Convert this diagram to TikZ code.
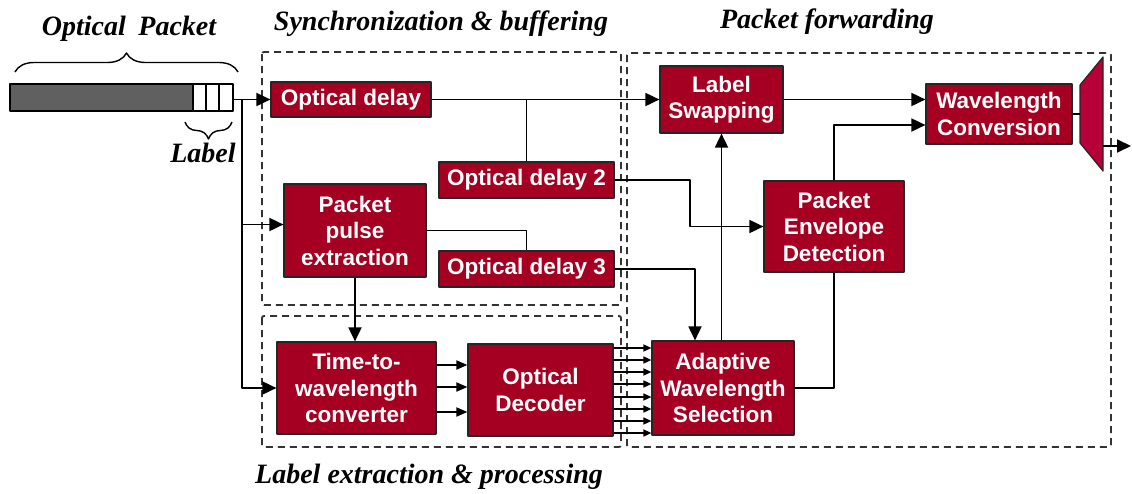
\documentclass[tikz,border=0pt]{standalone}
\usepackage{fontspec}
\setmainfont{Liberation Serif}
\setsansfont{Liberation Sans}
\usetikzlibrary{arrows.meta,calc,decorations.pathreplacing}
\definecolor{blkred}{RGB}{165,0,33}
\definecolor{muxred}{RGB}{184,0,56}
\definecolor{pktgray}{RGB}{96,96,96}
\tikzset{
  blk/.style={draw=black!85, line width=1.2pt, fill=blkred, text=white, align=center,
    inner sep=0pt, font=\sffamily\bfseries\fontsize{22.5}{26.5}\selectfont},
  hdr/.style={anchor=base, inner sep=0pt, font=\rmfamily\bfseries\itshape\fontsize{28}{30}\selectfont},
  grp/.style={draw=black!80, line width=1.9pt, dash pattern=on 7pt off 5pt, rounded corners=2pt},
  brc/.style={line width=1.4pt, decorate},
  marr/.style={-{Triangle[length=11pt,width=9pt]}},
  sarr/.style={-{Triangle[length=8pt,width=7pt]}}
}

\begin{document}
\begin{tikzpicture}[x=1pt, y=-1pt, >={Triangle[length=14pt,width=13pt]}, line width=1.8pt, line join=round]
  \useasboundingbox (0,0) rectangle (1132,493);

  % headings
  \node[hdr] (hPKT) at (129,35) {Optical\hspace{0.45em}Packet};
  \node[hdr] (hSYN) at (441,30) {Synchronization \& buffering};
  \node[hdr] (hFWD) at (827,28) {Packet forwarding};
  \node[hdr] (hLBL) at (429,483) {Label extraction \& processing};
  \node[hdr] (hLab) at (203,162) {Label};

  % optical packet
  \filldraw[fill=pktgray, line width=1.4pt] (10,84) rectangle (193,111);
  \draw[line width=1.4pt] (193,84) rectangle (206,111) (206,84) rectangle (219,111)
    (219,84) rectangle (233,111);
  \coordinate (P) at (233,99.5);
  \draw[brc, decoration={brace, amplitude=19pt}] (15,72) -- (238,72);
  \draw[brc, decoration={brace, amplitude=17pt}] (232,122) -- (185,122);

  % dashed groups
  \draw[grp] (262,52) rectangle (621,305);
  \draw[grp] (262,316) rectangle (621,447);
  \draw[grp] (627,53) rectangle (1111,447);

  % blocks
  \node[blk, minimum width=160pt, minimum height=35pt] (OD) at (351,99.5) {Optical delay};
  \node[blk, minimum width=142pt, minimum height=93pt] (PPE) at (355,230.5) {Packet\\pulse\\extraction};
  \node[blk, minimum width=175pt, minimum height=36pt] (OD2) at (526.5,180) {Optical delay 2};
  \node[blk, minimum width=175pt, minimum height=36pt] (OD3) at (526.5,269) {Optical delay 3};
  \node[blk, minimum width=123pt, minimum height=67pt] (LS) at (721.5,99.5) {Label\\Swapping};
  \node[blk, minimum width=140pt, minimum height=91pt] (PED) at (834,226.5) {Packet\\Envelope\\Detection};
  \node[blk, minimum width=146pt, minimum height=60pt] (WC) at (999,114) {Wavelength\\Conversion};
  \node[blk, minimum width=159pt, minimum height=92pt] (TWC) at (356.5,388) {Time-to-\\wavelength\\converter};
  \node[blk, minimum width=145pt, minimum height=92pt] (DEC) at (540.5,390) {Optical\\Decoder};
  \node[blk, minimum width=142pt, minimum height=94pt] (AWS) at (723,388) {Adaptive\\Wavelength\\Selection};

  % multiplexer
  \filldraw[fill=muxred, draw=black!85, line width=1.2pt] (1080,85) -- (1103,57) -- (1103,171)
    -- (1080,143) -- cycle;
  \coordinate (MI) at (1080,114);
  \coordinate (MO) at (1103,146);
  \coordinate (OUT) at (1131,146);

  % connections
  \coordinate (T) at (242,99.5);
  \draw[->] (P) -- (OD.west);
  \draw[->] (T) |- (TWC.west);
  \draw[->] (T |- PPE.west) ++(0,-6) -- ([yshift=6pt]PPE.west);
  \draw[->] (OD.east) -- (LS.west);
  \draw (OD2.north) -- (OD2.north |- OD.east);
  \draw[->] (OD2.east) -- ++(75,0) |- (PED.west);
  \draw (PPE.east) -| (OD3.north);
  \draw[->] (OD3.east) -| ([xshift=-28pt]AWS.north);
  \draw[->] (PPE.south) -- (PPE.south |- TWC.north);
  \foreach \y in {365,387,412}
    \draw[marr] (TWC.east |- 0,\y) -- (DEC.west |- 0,\y);
  \foreach \y in {348,360,372,384,397,409,421,433}
    \draw[sarr, line width=1.5pt] (DEC.east |- 0,\y) -- (AWS.west |- 0,\y);
  \draw[->] (LS.south |- AWS.north) -- (LS.south);
  \draw (AWS.east) -| (PED.south);
  \draw[->] (PED.north) |- ([yshift=-11pt]WC.west);
  \draw[->] (LS.east) -- (LS.east -| WC.west);
  \draw (WC.east) -- (MI);
  \draw[->] (MO) -- (OUT);
\end{tikzpicture}
\end{document}
